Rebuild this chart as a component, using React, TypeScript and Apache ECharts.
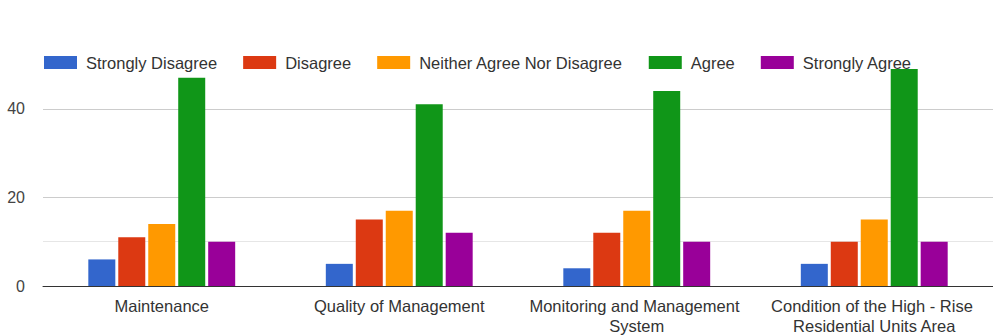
import React, { useEffect, useRef } from "react";
import * as echarts from "echarts";

const categories = [
  "Maintenance",
  "Quality of Management",
  "Monitoring and Management System",
  "Condition of the High - Rise Residential Units Area",
];
const seriesNames = [
  "Strongly Disagree",
  "Disagree",
  "Neither Agree Nor Disagree",
  "Agree",
  "Strongly Agree",
];
const stronglyDisagree = [6, 5, 4, 5];
const disagree = [11, 15, 12, 10];
const neither = [14, 17, 17, 15];
const agree = [47, 41, 44, 49];
const stronglyAgree = [10, 12, 10, 10];
const colors = ["#3366cc", "#dc3912", "#ff9900", "#109618", "#990099"];

export default function App() {
  const ref = useRef<HTMLDivElement>(null);
  useEffect(() => {
    if (!ref.current) return;
    const chart = echarts.init(ref.current, null, { renderer: "svg" });
    const values = [stronglyDisagree, disagree, neither, agree, stronglyAgree];
    const font = "Liberation Sans, Arial, sans-serif";
    chart.setOption({
      animation: false,
      color: colors,
      legend: {
        left: 44,
        top: 54,
        padding: 0,
        icon: "rect",
        itemWidth: 33,
        itemHeight: 13,
        itemGap: 26,
        textStyle: {
          fontFamily: font,
          fontSize: 16.5,
          color: "#333",
          padding: [0, 0, 0, 4],
        },
        data: seriesNames,
      },
      grid: { left: 43, right: 0, top: 64.5, bottom: 49, containLabel: false },
      xAxis: {
        type: "category",
        data: categories,
        axisTick: { show: false },
        axisLine: { lineStyle: { color: "#333", width: 1 } },
        axisLabel: {
          fontFamily: font,
          fontSize: 16.5,
          color: "#333",
          margin: 10,
          width: 228,
          overflow: "break",
          lineHeight: 20,
          interval: 0,
        },
      },
      yAxis: {
        type: "value",
        min: 0,
        max: 50,
        interval: 20,
        axisLabel: {
          fontFamily: font,
          fontSize: 16,
          color: "#444",
          margin: 18,
          showMaxLabel: false,
        },
        splitLine: { lineStyle: { color: "#cccccc" }, showMaxLine: false },
        axisLine: { show: false },
        axisTick: { show: false },
      },
      series: seriesNames.map((name, i) => ({
        name,
        type: "bar",
        data: values[i],
        barWidth: 27,
        barGap: "11%",
        itemStyle: { color: colors[i] },
        z: 3,
        ...(i === 0
          ? {
              markLine: {
                silent: true,
                symbol: "none",
                label: { show: false },
                lineStyle: { color: "#e6e6e6", type: "solid", width: 1 },
                data: [{ yAxis: 10 }],
                z: 1,
              },
            }
          : {}),
      })),
    });
    return () => chart.dispose();
  }, []);
  return (
    <div
      ref={ref}
      style={{ position: "fixed", left: 0, top: 0, width: 993, height: 336, background: "#fff" }}
    />
  );
}
